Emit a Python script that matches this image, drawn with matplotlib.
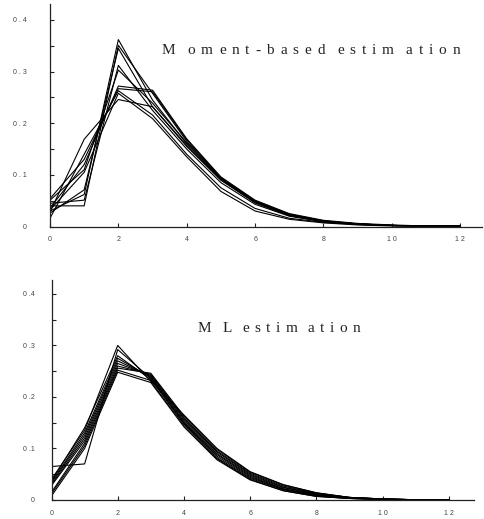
import matplotlib
matplotlib.use('Agg')
import matplotlib.pyplot as plt
from matplotlib.ticker import MultipleLocator
from matplotlib.font_manager import FontProperties
from matplotlib.textpath import TextToPath

# Estimated distributions, one list per replicate, values at k = 0..12
k = list(range(13))

moment_curves = [
    [0.030, 0.062, 0.362, 0.245, 0.160, 0.092, 0.047, 0.022, 0.010, 0.005, 0.002, 0.001, 0.0005],
    [0.040, 0.040, 0.351, 0.258, 0.165, 0.094, 0.049, 0.023, 0.011, 0.005, 0.002, 0.001, 0.0005],
    [0.026, 0.071, 0.345, 0.232, 0.155, 0.090, 0.046, 0.021, 0.010, 0.004, 0.002, 0.001, 0.0005],
    [0.045, 0.051, 0.312, 0.225, 0.150, 0.085, 0.043, 0.020, 0.009, 0.004, 0.002, 0.001, 0.0005],
    [0.051, 0.110, 0.303, 0.239, 0.162, 0.093, 0.048, 0.022, 0.010, 0.005, 0.002, 0.001, 0.0005],
    [0.036, 0.120, 0.272, 0.264, 0.170, 0.096, 0.051, 0.025, 0.012, 0.006, 0.003, 0.001, 0.0005],
    [0.054, 0.130, 0.267, 0.261, 0.168, 0.095, 0.050, 0.024, 0.011, 0.005, 0.002, 0.001, 0.0005],
    [0.016, 0.140, 0.263, 0.216, 0.140, 0.075, 0.035, 0.016, 0.008, 0.004, 0.002, 0.001, 0.0005],
    [0.032, 0.105, 0.258, 0.209, 0.135, 0.068, 0.030, 0.014, 0.007, 0.003, 0.001, 0.001, 0.0005],
    [0.028, 0.169, 0.246, 0.232, 0.157, 0.090, 0.046, 0.021, 0.010, 0.005, 0.002, 0.001, 0.0005],
]

ml_curves = [
    [0.040, 0.135, 0.300, 0.230, 0.145, 0.080, 0.040, 0.018, 0.007, 0.003, 0.001, 0.0005, 0.0002],
    [0.065, 0.070, 0.292, 0.236, 0.150, 0.085, 0.044, 0.021, 0.009, 0.004, 0.001, 0.0005, 0.0002],
    [0.037, 0.140, 0.280, 0.234, 0.148, 0.082, 0.042, 0.020, 0.008, 0.003, 0.001, 0.0005, 0.0002],
    [0.035, 0.130, 0.275, 0.238, 0.152, 0.088, 0.046, 0.022, 0.010, 0.004, 0.002, 0.0005, 0.0002],
    [0.033, 0.125, 0.270, 0.240, 0.155, 0.090, 0.048, 0.024, 0.011, 0.004, 0.002, 0.0005, 0.0002],
    [0.030, 0.120, 0.265, 0.242, 0.158, 0.093, 0.050, 0.025, 0.012, 0.005, 0.002, 0.0005, 0.0002],
    [0.028, 0.115, 0.260, 0.244, 0.160, 0.095, 0.052, 0.027, 0.013, 0.005, 0.002, 0.0005, 0.0002],
    [0.015, 0.110, 0.256, 0.246, 0.163, 0.098, 0.054, 0.029, 0.014, 0.005, 0.002, 0.0005, 0.0002],
    [0.012, 0.105, 0.252, 0.232, 0.165, 0.100, 0.055, 0.030, 0.014, 0.005, 0.002, 0.0005, 0.0002],
    [0.008, 0.100, 0.248, 0.228, 0.142, 0.078, 0.039, 0.018, 0.007, 0.003, 0.001, 0.0005, 0.0002],
]

x_ticks = [0, 2, 4, 6, 8, 10, 12]
x_labels = ['0', '2', '4', '6', '8', '1 0', '1 2']
y_ticks = [0, 0.1, 0.2, 0.3, 0.4]
y_labels_top = ['0', '0 . 1', '0 . 2', '0 . 3', '0 . 4']
y_labels_bottom = ['0', '0 .1', '0 .2', '0 .3', '0 .4']

W, H = 484, 519
fig = plt.figure(figsize=(W / 100, H / 100), dpi=100)

tick_font = dict(family='Liberation Sans', size=5, color='#444444')
title_prop = FontProperties(family='Liberation Serif', size=11)


def setup(ax, xmax, ymax, ylabels, ypad):
    ax.set_xlim(0, xmax)
    ax.set_ylim(0, ymax)
    for side in ['top', 'right']:
        ax.spines[side].set_visible(False)
    for side in ['left', 'bottom']:
        ax.spines[side].set_linewidth(0.9)
        ax.spines[side].set_color('#222222')
    ax.set_xticks(x_ticks)
    ax.set_xticklabels(x_labels, **tick_font)
    ax.set_yticks(y_ticks)
    ax.set_yticklabels(ylabels, **tick_font)
    ax.yaxis.set_minor_locator(MultipleLocator(0.05))
    ax.tick_params(axis='both', which='both', direction='in', length=3,
                   width=0.8, color='#222222')
    ax.tick_params(axis='x', pad=7)
    ax.tick_params(axis='y', pad=ypad)


def tracked_title(s, x0, x1, yc):
    # letter-spaced title, stretched between pixel columns x0 and x1;
    # a space just adds one more letter gap
    t2p = TextToPath()
    pt2px = 100 / 72
    widths = []
    for ch in s:
        if ch == ' ':
            widths.append(0.0)
        else:
            w, h, d = t2p.get_text_width_height_descent(ch, title_prop, ismath=False)
            widths.append(w * pt2px)
    gap = (x1 - x0 - sum(widths)) / (len(s) - 1)
    x = x0
    for ch, w in zip(s, widths):
        if ch != ' ':
            fig.text(x / W, 1 - yc / H, ch, fontproperties=title_prop,
                     color='#222222', ha='left', va='center')
        x += w + gap


# top panel: moment-based
ax1 = fig.add_axes([50 / W, (H - 226.5) / H, 432 / W, 222 / H])
for c in moment_curves:
    ax1.plot(k, c, color='black', lw=0.8)
setup(ax1, 12.64, 0.43, y_labels_top, 17)
tracked_title('M oment-based estim ation', 162, 460, 51)

# bottom panel: maximum likelihood
ax2 = fig.add_axes([51.5 / W, (H - 500) / H, 422.4 / W, 220 / H])
for c in ml_curves:
    ax2.plot(k, c, color='black', lw=0.8)
setup(ax2, 12.76, 0.427, y_labels_bottom, 12)
tracked_title('M L estim ation', 198, 360, 329)

fig.savefig('out.png', dpi=100)
